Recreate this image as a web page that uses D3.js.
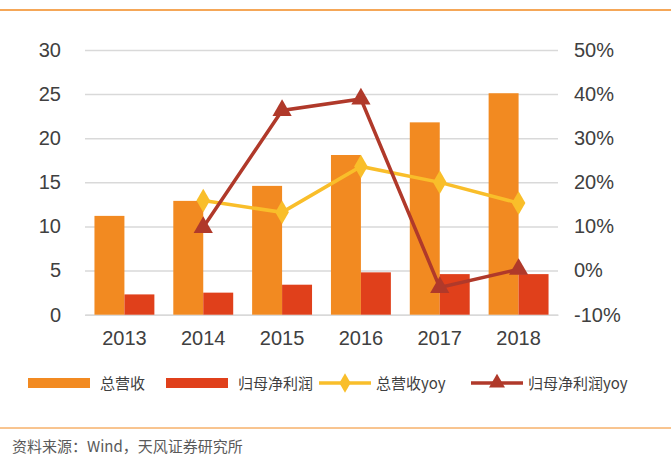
<!DOCTYPE html><html><head><meta charset="utf-8"><script src="https://cdn.jsdelivr.net/npm/d3@7"></script>
<style>body{margin:0;background:#fff}text{font-family:"Liberation Sans",Arial,sans-serif}</style></head><body><svg id="c" width="671" height="459"></svg>
<script>
const years=["2013","2014","2015","2016","2017","2018"];
const revenue=[11.2,12.9,14.6,18.1,21.8,25.1];
const netProfit=[2.3,2.5,3.4,4.8,4.6,4.6];
const revYoy=[null,15.9,13.2,23.6,20.0,15.3];
const npYoy=[null,9.8,36.3,38.9,-3.8,0.3];
const leftTicks=[0,5,10,15,20,25,30];
const rightTicks=[-10,0,10,20,30,40,50];
const svg=d3.select("#c");
const C={rev:"#F28A21",np:"#E0401B",ry:"#F9BE2A",ny:"#B0392A"};
svg.append("line").attr("x1",0).attr("x2",671).attr("y1",10).attr("y2",10).attr("stroke","#F28A21").attr("stroke-width",1.5);
svg.append("line").attr("x1",0).attr("x2",671).attr("y1",428).attr("y2",428).attr("stroke","#F28A21").attr("stroke-width",1);
const x=d3.scaleBand().domain(years).range([85,558]).paddingInner(0.24).paddingOuter(0.12);
const xs=d3.scaleBand().domain(["a","b"]).range([0,x.bandwidth()]);
const yl=d3.scaleLinear().domain([0,30]).range([314.7,50]);
const yr=d3.scaleLinear().domain([-10,50]).range([314.7,50]);
const gl=svg.append("g").attr("transform","translate(85,0)").call(d3.axisLeft(yl).tickValues(leftTicks).tickSize(-473).tickPadding(24));
gl.select(".domain").remove();gl.selectAll("line").attr("stroke","#d9d9d9").attr("stroke-width",1.5);
gl.selectAll("text").attr("font-size",20).attr("fill","#404040");
const gr=svg.append("g").attr("transform","translate(558,0)").call(d3.axisRight(yr).tickValues(rightTicks).tickSize(0).tickPadding(16).tickFormat(d=>d+"%"));
gr.select(".domain").remove();gr.selectAll("text").attr("font-size",20).attr("fill","#404040");
const gx=svg.append("g").attr("transform","translate(0,314.7)").call(d3.axisBottom(x).tickSize(0).tickPadding(16));
gx.select(".domain").attr("stroke","#d9d9d9").attr("stroke-width",1.5);gx.selectAll("text").attr("font-size",20).attr("fill","#404040");
svg.append("g").selectAll("rect").data(years).join("rect").attr("x",d=>x(d)).attr("width",xs.bandwidth()).attr("y",(d,i)=>yl(revenue[i])).attr("height",(d,i)=>yl(0)-yl(revenue[i])).attr("fill",C.rev);
svg.append("g").selectAll("rect").data(years).join("rect").attr("x",d=>x(d)+xs("b")).attr("width",xs.bandwidth()).attr("y",(d,i)=>yl(netProfit[i])).attr("height",(d,i)=>yl(0)-yl(netProfit[i])).attr("fill",C.np);
const cx=d=>x(d)+x.bandwidth()/2;
function series(vals,col,sym){const pts=years.map((d,i)=>[d,vals[i]]).filter(p=>p[1]!=null);
svg.append("path").datum(pts).attr("d",d3.line().x(p=>cx(p[0])).y(p=>yr(p[1]))).attr("fill","none").attr("stroke",col).attr("stroke-width",3.5);
svg.append("g").selectAll("path").data(pts).join("path").attr("transform",p=>`translate(${cx(p[0])},${yr(p[1])})`).attr("d",d3.symbol().type(sym).size(160)).attr("fill",col);}
series(revYoy,C.ry,d3.symbolDiamond);series(npYoy,C.ny,d3.symbolTriangle);
const leg=[["总营收",C.rev,"bar"],["归母净利润",C.np,"bar"],["总营收yoy",C.ry,d3.symbolDiamond],["归母净利润yoy",C.ny,d3.symbolTriangle]];
const lx=[28,166,319,471];
leg.forEach((l,i)=>{const g=svg.append("g").attr("transform",`translate(${lx[i]},383)`);
if(l[2]=="bar")g.append("rect").attr("x",0).attr("y",-5).attr("width",62).attr("height",10).attr("fill",l[1]);
else{g.append("line").attr("x1",0).attr("x2",52).attr("stroke",l[1]).attr("stroke-width",3.5);g.append("path").attr("transform","translate(26,0)").attr("d",d3.symbol().type(l[2]).size(110)).attr("fill",l[1]);}
g.append("text").attr("x",l[2]=="bar"?72:57).attr("y",6).attr("font-size",15).attr("fill","#404040").style("font-family","'Noto Sans CJK SC'").text(l[0]);});
svg.append("text").attr("x",12).attr("y",452).attr("font-size",15).attr("fill","#595959").style("font-family","'Noto Sans CJK SC'").text("资料来源：Wind，天风证券研究所");
</script></body></html>
